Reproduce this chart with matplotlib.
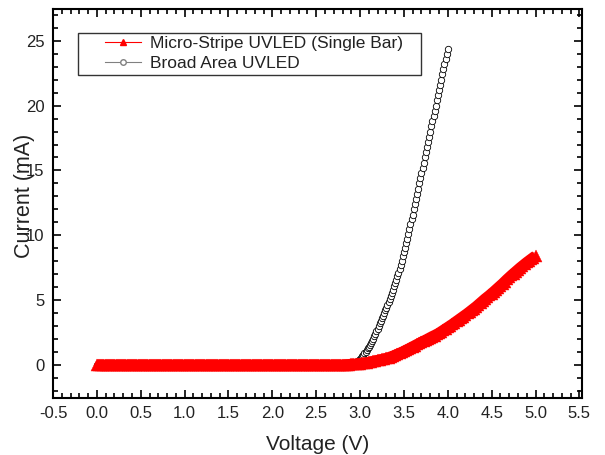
import numpy as np
import matplotlib
matplotlib.use('Agg')
import matplotlib.pyplot as plt
from matplotlib.ticker import MultipleLocator
from matplotlib.lines import Line2D
from matplotlib.patches import Rectangle

plt.rcParams['font.family'] = ['Liberation Sans', 'DejaVu Sans']

# Micro-stripe UVLED: 0 - 5 V sweep, 0.025 V step
red_step = 0.025
red_flat = [0.0] * 112   # 0.000 .. 2.775 V
red_rise = [0.00, 0.01, 0.02, 0.03, 0.05, 0.06, 0.07, 0.09, 0.10, 0.12,
            0.15, 0.17, 0.20, 0.24, 0.27, 0.31, 0.35, 0.39, 0.42, 0.46,
            0.50, 0.56, 0.62, 0.68, 0.75, 0.82, 0.90, 0.97, 1.05, 1.14,
            1.22, 1.31, 1.40, 1.49, 1.58, 1.66, 1.75, 1.84, 1.92, 2.01,
            2.10, 2.19, 2.27, 2.36, 2.45, 2.56, 2.67, 2.79, 2.90, 3.01,
            3.12, 3.24, 3.35, 3.47, 3.60, 3.72, 3.85, 3.97, 4.10, 4.22,
            4.35, 4.50, 4.65, 4.80, 4.95, 5.09, 5.22, 5.36, 5.50, 5.65,
            5.80, 5.95, 6.10, 6.26, 6.43, 6.59, 6.75, 6.90, 7.05, 7.20,
            7.35, 7.49, 7.63, 7.76, 7.90, 8.03, 8.15, 8.28, 8.40]
red_i = red_flat + red_rise
red_v = np.arange(len(red_i)) * red_step

# Broad area UVLED: 0 - 4 V sweep, 0.0125 V step
broad_step = 0.0125
broad_flat = [0.0] * 228   # 0.0000 .. 2.8375 V
broad_rise = [0.00, 0.01, 0.02, 0.03, 0.05, 0.08, 0.12, 0.16, 0.20, 0.26,
              0.32, 0.38, 0.45, 0.55, 0.66, 0.78, 0.90, 1.02, 1.15, 1.27,
              1.40, 1.55, 1.70, 1.85, 2.00, 2.20, 2.40, 2.60, 2.80, 3.00,
              3.20, 3.40, 3.60, 3.80, 4.00, 4.20, 4.40, 4.62, 4.85, 5.07,
              5.30, 5.55, 5.80, 6.05, 6.30, 6.57, 6.85, 7.12, 7.40, 7.72,
              8.05, 8.37, 8.70, 9.05, 9.40, 9.75, 10.10, 10.47, 10.85, 11.22,
              11.60, 12.00, 12.40, 12.80, 13.20, 13.60, 14.00, 14.40, 14.80, 15.20,
              15.60, 16.00, 16.40, 16.80, 17.20, 17.60, 18.00, 18.40, 18.80, 19.20,
              19.60, 20.00, 20.40, 20.80, 21.20, 21.60, 22.00, 22.40, 22.80, 23.20,
              23.60, 24.00, 24.40]
broad_i = broad_flat + broad_rise
broad_v = np.arange(len(broad_i)) * broad_step

labels = ['Micro-Stripe UVLED (Single Bar)', 'Broad Area UVLED']

fig = plt.figure(figsize=(6.05, 4.55), dpi=100)
ax = fig.add_axes([53 / 605, 1 - 398 / 455, 529 / 605, 389 / 455])

ax.plot(broad_v, broad_i, color='gray', lw=0.6, marker='o', ms=4.6,
        mfc='white', mec='black', mew=0.6, zorder=2)
# thick band of overlapping triangles
ax.plot(red_v, red_i, color='red', lw=8, solid_capstyle='butt', zorder=3)
ax.plot(red_v, red_i, color='red', lw=0, marker='^', ms=9,
        mfc='red', mec='red', mew=0.3, zorder=3)

ax.set_xlim(-0.5, 5.53)
ax.set_ylim(-2.55, 27.45)
ax.xaxis.set_major_locator(MultipleLocator(0.5))
ax.xaxis.set_minor_locator(MultipleLocator(0.1))
ax.yaxis.set_major_locator(MultipleLocator(5))
ax.yaxis.set_minor_locator(MultipleLocator(1))
ax.xaxis.set_major_formatter(plt.FormatStrFormatter('%.1f'))
ax.yaxis.set_major_formatter(plt.FormatStrFormatter('%d'))

ax.tick_params(which='both', direction='in', top=True, right=True,
               width=1.2, labelsize=12, pad=6, labelcolor='#222222')
ax.tick_params(which='major', length=6)
ax.tick_params(which='minor', length=3.5)
for s in ax.spines.values():
    s.set_linewidth(1.5)

ax.set_xlabel('Voltage (V)', fontsize=15, color='#222222')
ax.set_ylabel('Current (mA)', fontsize=15.5, color='#222222')
ax.xaxis.set_label_coords(0.5, -0.095)
ax.yaxis.set_label_coords(-0.034, 0.52)

# legend frame drawn separately so its padding matches the original
ax.add_patch(Rectangle(((78 - 53) / 529, (398 - 75) / 389), (421 - 78) / 529, 42 / 389,
                       transform=ax.transAxes, fill=False, ec='#333333', lw=1.0,
                       zorder=5))
handles = [
    Line2D([], [], color='red', lw=0.8, marker='^', ms=5, mfc='red', mec='red'),
    Line2D([], [], color='gray', lw=0.8, marker='o', ms=4, mfc='white', mec='gray'),
]
leg = ax.legend(handles, labels, loc='upper left',
                bbox_to_anchor=((105 - 53) / 529, (398 - 36) / 389),
                borderaxespad=0, borderpad=0, fontsize=12.5, frameon=False,
                handlelength=2.1, handletextpad=0.5, labelspacing=0.25)
leg.set_zorder(6)
for t in leg.get_texts():
    t.set_color('#222222')

fig.savefig('out.png', dpi=100)
